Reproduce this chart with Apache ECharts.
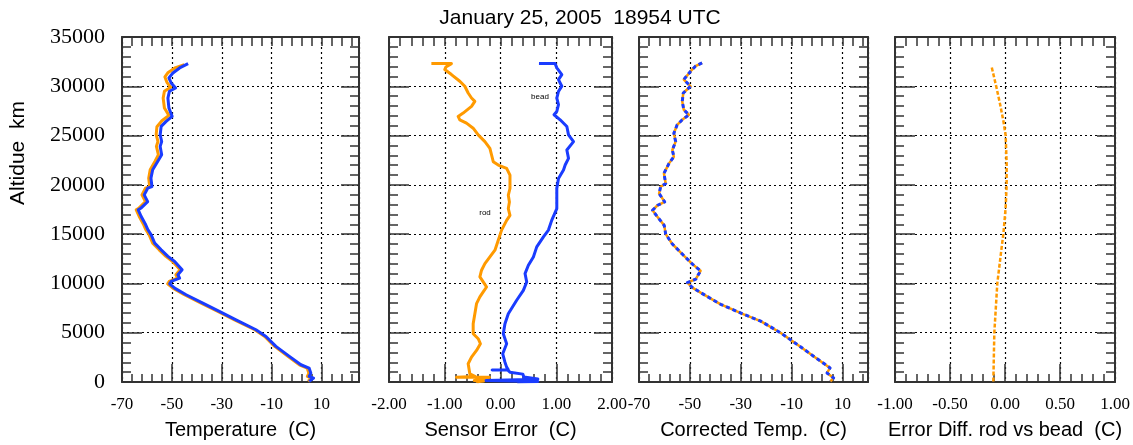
<!DOCTYPE html>
<html><head><meta charset="utf-8">
<script src="https://cdn.jsdelivr.net/npm/echarts@6/dist/echarts.min.js"></script>
<style>html,body{margin:0;padding:0;background:#fff}#c{width:1133px;height:445px}</style>
</head><body><div id="c"></div>
<script>
// ---------------- DATA (altitude m, value) ----------------
const titleText = 'January 25, 2005  18954 UTC';
const altTicks = [0, 5000, 10000, 15000, 20000, 25000, 30000, 35000];
const tempTicks = [-70, -50, -30, -10, 10];
const errTicks = ['-2.00', '-1.00', '0.00', '1.00', '2.00'];
const diffTicks = ['-1.00', '-0.50', '0.00', '0.50', '1.00'];

// Panel 1: raw temperature, rod (orange) and bead (blue) [alt, degC]
const rawRod = [[32200,-45.0],[31900,-48.5],[31400,-51.5],[30950,-52.8],[30400,-52.0],[29900,-50.5],[29500,-53.0],[28800,-53.5],[27800,-53.0],[27050,-51.2],[26500,-54.0],[25900,-56.0],[25100,-56.3],[24400,-55.6],[23900,-56.2],[23050,-55.4],[22370,-56.8],[21530,-58.7],[20680,-59.3],[19830,-58.9],[19660,-60.6],[18980,-62.0],[18300,-60.6],[17620,-63.3],[17470,-64.3],[16790,-63.1],[15950,-61.3],[15440,-60.4],[14930,-59.1],[14090,-57.7],[13410,-55.1],[12740,-52.4],[12230,-49.7],[11380,-46.7],[10880,-48.4],[10540,-47.7],[10200,-51.1],[9960,-51.7],[9520,-49.6],[8850,-45.0],[8000,-38.3],[7160,-31.6],[6310,-24.9],[5300,-16.8],[4620,-12.8],[3610,-8.8],[2600,-3.5],[1750,1.1],[1410,4.2],[900,4.9],[570,4.3],[400,5.9],[60,4.6]];
const rawBead = [[32300,-43.5],[31860,-46.9],[31350,-49.6],[30850,-51.2],[30340,-50.3],[29830,-48.5],[29500,-51.0],[28800,-51.6],[27800,-51.2],[26950,-49.9],[26440,-52.3],[25930,-54.3],[25080,-54.7],[24400,-54.1],[23900,-54.7],[23050,-54.1],[22370,-55.7],[21530,-57.7],[20680,-58.4],[19830,-58.0],[19660,-59.7],[18980,-61.1],[18300,-59.7],[17620,-62.5],[17470,-63.5],[16790,-62.3],[15950,-60.5],[15440,-59.6],[14930,-58.3],[14090,-56.9],[13410,-54.3],[12740,-51.6],[12230,-48.9],[11380,-45.9],[10880,-47.6],[10540,-46.9],[10200,-50.3],[9960,-50.9],[9520,-48.9],[8850,-44.3],[8000,-37.6],[7160,-31.0],[6310,-24.3],[5300,-16.3],[4620,-12.3],[3610,-8.3],[2600,-2.9],[1750,1.7],[1410,5.0],[900,5.7],[570,5.0],[400,6.8],[60,5.0]];

// Panel 2: sensor error [alt, degC]
const errRod = [[32310,-1.24],[32300,-0.88],[31950,-0.98],[31700,-1.00],[31190,-0.88],[30510,-0.73],[30000,-0.64],[29320,-0.58],[28810,-0.52],[28470,-0.46],[27960,-0.52],[27280,-0.67],[26940,-0.76],[26600,-0.73],[26260,-0.61],[25750,-0.49],[25070,-0.40],[24390,-0.28],[23710,-0.19],[23030,-0.16],[22350,-0.13],[22010,-0.04],[21670,0.11],[20990,0.17],[20310,0.17],[19630,0.17],[18950,0.14],[18270,0.16],[17590,0.14],[16910,0.17],[16400,0.11],[15410,0.02],[14390,-0.04],[13370,-0.10],[12690,-0.19],[12010,-0.28],[11340,-0.34],[10660,-0.37],[10150,-0.31],[9640,-0.25],[9140,-0.31],[8630,-0.37],[7950,-0.43],[6930,-0.46],[5910,-0.49],[4900,-0.49],[4390,-0.40],[3880,-0.36],[3200,-0.43],[2520,-0.52],[1850,-0.58],[1170,-0.56],[830,-0.55],[560,-0.45],[470,-0.79],[470,-0.20],[250,-0.35],[150,-0.47],[100,-0.30],[30,-0.42],[0,-0.38]];
const errBead = [[32310,0.69],[32300,0.98],[31870,1.01],[31190,1.10],[30680,1.04],[30000,1.10],[29490,1.04],[28810,1.01],[28130,1.04],[27450,1.01],[27110,0.96],[26600,1.07],[25920,1.19],[25070,1.22],[24390,1.31],[23540,1.19],[22690,1.22],[22010,1.16],[21500,1.13],[20650,1.04],[19630,1.01],[18610,1.01],[17590,1.01],[16420,0.92],[15410,0.86],[14730,0.77],[13710,0.65],[12690,0.59],[11850,0.50],[11000,0.44],[10150,0.47],[9300,0.41],[8290,0.29],[6930,0.14],[5910,0.08],[4900,0.05],[3880,0.11],[2860,0.04],[2010,0.08],[1510,0.11],[1230,0.14],[1220,-0.15],[1210,0.13],[1000,0.17],[880,0.19],[800,0.40],[500,0.42],[300,0.67],[250,0.50],[150,-0.26],[60,0.67],[0,0.30]];

// Panel 3: corrected temperature [alt, degC]
const corrTemp = [[32380,-45.2],[32040,-47.8],[31530,-49.7],[30680,-52.4],[30000,-49.7],[29320,-52.6],[28470,-53.0],[27620,-52.4],[27110,-50.4],[26600,-53.0],[26090,-55.0],[25240,-56.3],[24390,-55.6],[23540,-56.9],[22860,-56.3],[22180,-58.2],[21160,-60.2],[20140,-59.5],[19800,-61.5],[19120,-62.1],[18270,-59.9],[17930,-62.7],[17420,-64.7],[16740,-62.7],[15890,-60.1],[15000,-59.5],[14000,-56.9],[12980,-53.0],[11960,-49.0],[11280,-45.8],[10430,-47.7],[10090,-51.0],[9580,-49.0],[9070,-45.8],[7880,-37.9],[6860,-28.8],[6180,-22.2],[5000,-14.4],[3810,-7.8],[2620,-1.4],[1430,5.1],[920,3.9],[410,6.5],[70,5.2]];

// Panel 4: error difference rod vs bead [alt, degC]
const errDiff = [[31900,-0.12],[30000,-0.08],[28200,-0.045],[26500,-0.015],[25000,0.006],[22100,0.015],[20000,0.015],[17700,0.006],[15000,-0.015],[13700,-0.03],[10000,-0.07],[5000,-0.097],[0,-0.106]];

// ---------------- CHART ----------------
const ORANGE = '#ff9a00', BLUE = '#1a3cff', FRAME = '#333';
const TEMP_MIN = -70;
const SERIF = 'Liberation Serif', SANS = 'Liberation Sans';

const grids = [
  {left: 122, top: 37, width: 237, height: 345},
  {left: 389, top: 37, width: 223, height: 345},
  {left: 639, top: 37, width: 229, height: 345},
  {left: 895, top: 37, width: 220, height: 345}
];

const lineSt = {color: FRAME, width: 2};
const tickSt = {color: FRAME, width: 1.5};
const gridSt = {show: true, lineStyle: {color: '#000', type: [2, 3], width: 1.2}};

const tempFmt = v => { const t = Math.round(v + TEMP_MIN); return tempTicks.includes(t) ? String(t) : ''; };
const errFmt = v => { const i = Math.round(v + 2); return (Math.abs(v + 2 - i) < 1e-6 && errTicks[i]) ? errTicks[i] : ''; };
const diffFmt = v => { const i = Math.round((v + 1) * 2); return (Math.abs((v + 1) * 2 - i) < 1e-6 && diffTicks[i]) ? diffTicks[i] : ''; };

const panels = [
  {min: 0, max: 95, interval: 20, temp: true, fmt: tempFmt, name: 'Temperature  (C)'},
  {min: -2, max: 2, interval: 1, temp: false, fmt: errFmt, name: 'Sensor Error  (C)'},
  {min: 0, max: 90, interval: 20, temp: true, fmt: tempFmt, name: 'Corrected Temp.  (C)'},
  {min: -1, max: 1, interval: 0.5, temp: false, fmt: diffFmt, name: 'Error Diff. rod vs bead  (C)'}
];

const xAxis = [], yAxis = [], mainX = [], mainY = [];
panels.forEach((p, g) => {
  mainX.push(xAxis.length);
  xAxis.push({
    gridIndex: g, type: 'value', position: 'bottom', min: p.min, max: p.max, interval: p.interval,
    axisLine: {show: true, onZero: false, lineStyle: lineSt},
    axisTick: {show: true, inside: true, length: 18, lineStyle: tickSt},
    minorTick: {show: !p.temp, splitNumber: 5, length: 8, lineStyle: tickSt},
    splitLine: gridSt,
    axisLabel: {show: true, margin: 14, fontFamily: SERIF, fontSize: 17, color: '#000', formatter: p.fmt, showMinLabel: true, showMaxLabel: !p.temp},
    name: p.name, nameLocation: 'middle', nameGap: 38,
    nameTextStyle: {fontFamily: SANS, fontSize: 20, color: '#000'}
  });
  xAxis.push({
    gridIndex: g, type: 'value', position: 'top', min: p.min, max: p.max, interval: p.temp ? 4 : p.interval,
    axisLine: {show: true, onZero: false, lineStyle: lineSt},
    axisTick: {show: true, inside: true, length: 9, lineStyle: tickSt},
    minorTick: {show: !p.temp, splitNumber: 5, length: 9, lineStyle: tickSt},
    splitLine: {show: false}, axisLabel: {show: false}
  });
  if (p.temp) {
    xAxis.push({
      gridIndex: g, type: 'value', position: 'bottom', min: p.min, max: p.max, interval: 4,
      axisLine: {show: false, onZero: false},
      axisTick: {show: true, inside: true, length: 8, lineStyle: tickSt},
      splitLine: {show: false}, axisLabel: {show: false}
    });
  }
  mainY.push(yAxis.length);
  yAxis.push({
    gridIndex: g, type: 'value', position: 'left', min: altTicks[0], max: altTicks[altTicks.length - 1], interval: altTicks[1] - altTicks[0],
    axisLine: {show: true, onZero: false, lineStyle: lineSt},
    axisTick: {show: true, inside: true, length: 20, lineStyle: tickSt},
    minorTick: {show: true, splitNumber: 5, length: 9, lineStyle: tickSt},
    splitLine: gridSt,
    axisLabel: {show: g === 0, margin: 17, fontFamily: SERIF, fontSize: 22, color: '#000',
      formatter: v => altTicks.includes(v) ? String(v) : ''}
  });
  yAxis.push({
    gridIndex: g, type: 'value', position: 'right', min: altTicks[0], max: altTicks[altTicks.length - 1], interval: altTicks[1] - altTicks[0],
    axisLine: {show: true, onZero: false, lineStyle: lineSt},
    axisTick: {show: true, inside: true, length: 18, lineStyle: tickSt},
    minorTick: {show: true, splitNumber: 5, length: 9, lineStyle: tickSt},
    splitLine: {show: false}, axisLabel: {show: false}
  });
});

function mk(g, arr, color, width, type, shift) {
  return {
    type: 'line', xAxisIndex: mainX[g], yAxisIndex: mainY[g],
    data: arr.map(([alt, v]) => [v - shift, alt]),
    showSymbol: false, symbol: 'none', silent: true, animation: false,
    lineStyle: {color, width, type: type || 'solid', cap: 'butt', join: 'round'}
  };
}

const series = [
  mk(0, rawRod, ORANGE, 3, null, TEMP_MIN),
  mk(0, rawBead, BLUE, 3, null, TEMP_MIN),
  mk(1, errRod, ORANGE, 3, null, 0),
  mk(1, errBead, BLUE, 3, null, 0),
  mk(2, corrTemp, ORANGE, 2.5, null, TEMP_MIN),
  mk(2, corrTemp, BLUE, 3, [4, 3], TEMP_MIN),
  mk(3, errDiff, ORANGE, 2.5, [4, 2], 0)
];

const chart = echarts.init(document.getElementById('c'), null, {renderer: 'canvas'});
chart.setOption({
  animation: false,
  backgroundColor: '#fff',
  grid: grids,
  xAxis, yAxis, series,
  graphic: [
    {type: 'text', x: 580, y: 18, style: {text: titleText, fontFamily: SANS, fontSize: 21, fill: '#000', align: 'center', verticalAlign: 'middle'}},
    {type: 'text', x: 18, y: 153, rotation: Math.PI / 2, style: {text: 'Altidue  km', fontFamily: SANS, fontSize: 21, fill: '#000', align: 'center', verticalAlign: 'middle'}},
    {type: 'text', x: 540, y: 97, style: {text: 'bead', fontFamily: SANS, fontSize: 8, fill: '#000', align: 'center', verticalAlign: 'middle'}},
    {type: 'text', x: 485, y: 213, style: {text: 'rod', fontFamily: SANS, fontSize: 8, fill: '#000', align: 'center', verticalAlign: 'middle'}}
  ]
});
</script></body></html>
